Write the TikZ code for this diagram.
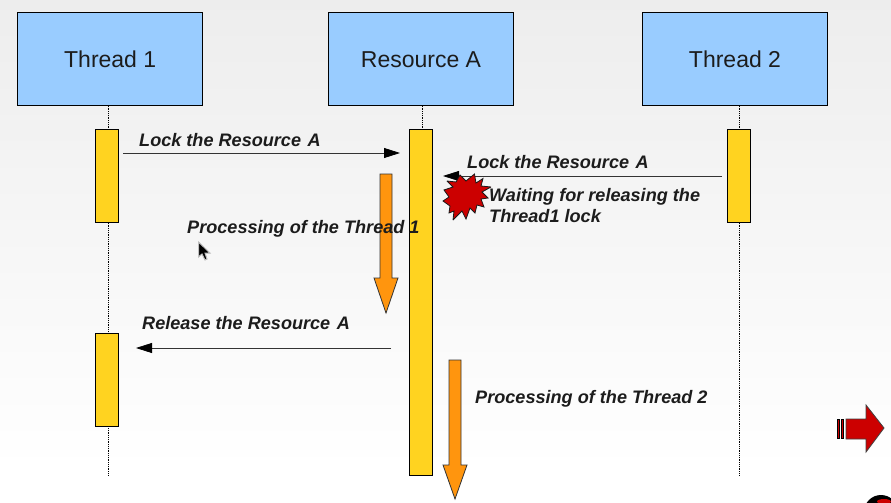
\documentclass[tikz,border=0pt]{standalone}
\usepackage{fontspec}
\setmainfont{Liberation Sans}
\usetikzlibrary{arrows.meta,calc}
\definecolor{boxblue}{HTML}{99CCFF}
\definecolor{baryellow}{HTML}{FFD320}
\definecolor{barorange}{HTML}{FF950E}
\definecolor{burst}{HTML}{CC0000}
\definecolor{inktext}{HTML}{1C1C1C}
\newcommand{\gapA}{\hspace{6.5pt}}
\tikzset{
  header/.style={draw=black,line width=1pt,fill=boxblue,minimum width=185.5pt,minimum height=92.5pt,inner sep=0pt,text height=17pt,text depth=0pt,font=\fontsize{23}{28}\selectfont,text=inktext},
  bar/.style={draw=black,line width=0.8pt,fill=baryellow,minimum width=22.3pt,inner sep=0pt},
  life/.style={densely dotted,line width=0.8pt,black},
  msg/.style={line width=0.8pt,draw=black!80,-{Triangle[length=16pt,width=10pt,color=black,fill=black]}},
  lbl/.style={anchor=base west,inner sep=0pt,font=\fontsize{18.1}{20.5}\selectfont\bfseries\itshape,text=inktext,align=left},
  blockarrow/.style={draw=black!80,line width=0.8pt,fill=barorange},
  redshape/.style={draw=black!75,line width=0.8pt,fill=burst}
}
\begin{document}
\begin{tikzpicture}[x=1pt,y=-1pt]
\useasboundingbox (0,0) rectangle (891,503);
\shade[top color=black!7,bottom color=white,middle color=black!3.5] (0,0) rectangle (891,470);
\fill[white] (0,470) rectangle (891,503);
% lifelines
\node[header] (t1) at (110.2,59) {Thread 1};
\node[header] (ra) at (421,59) {Resource A};
\node[header] (t2) at (735,59) {Thread 2};
\coordinate (e1) at (108,476);
\coordinate (e2) at (422,476);
\coordinate (e3) at (739.5,476);
\draw[life] (t1.south -| e1) -- (e1);
\draw[life] (ra.south -| e2) -- (e2);
\draw[life] (t2.south -| e3) -- (e3);
% activation bars
\node[bar,minimum height=93pt] (b1) at (106.9,175.5) {};
\node[bar,minimum height=93pt] (b2) at (106.9,380) {};
\node[bar,minimum height=346pt] (br) at (420.9,302) {};
\node[bar,minimum height=93pt] (b3) at (738.9,175.5) {};
% block arrows
\draw[blockarrow] (380,174) -- (392,174) -- (392,278) -- (398,278) -- (386,313) -- (374,278) -- (380,278) -- cycle;
\draw[blockarrow] (449,360) -- (461,360) -- (461,465) -- (467,465) -- (455,499) -- (443,465) -- (449,465) -- cycle;
% messages
\coordinate (m1a) at (123,153);
\coordinate (m1b) at (400,153);
\coordinate (m2a) at (722,176);
\coordinate (m2b) at (443,176);
\coordinate (m3a) at (391,348);
\coordinate (m3b) at (136,348);
\draw[msg] (m1a) -- (m1b);
\draw[msg] (m2a) -- (m2b);
\draw[msg] (m3a) -- (m3b);
% burst
\draw[redshape,draw=black!90,line join=miter,miter limit=3]
 (474.5,174) -- (476,183) -- (483,178.5) -- (481,186) -- (491,187) -- (482,192) -- (488,198)
 -- (481,199) -- (484,207) -- (477,205) -- (475,213) -- (470,208) -- (466,219) -- (462,211)
 -- (453,220) -- (454,211) -- (449,213) -- (450,206) -- (443,201) -- (449,197) -- (444,190)
 -- (453,187) -- (447,181) -- (456,182) -- (460,175) -- (466,181) -- cycle;
% labels
\node[lbl] (l1) at (139,146) {Lock the Resource\gapA A};
\node[lbl] (l2) at (467,168) {Lock the Resource\gapA A};
\node[lbl,anchor=north west] (l3) at (489,188.5) {Waiting for releasing the\\Thread1 lock};
\node[lbl] (l4) at (187,233) {Processing of the Thread 1};
\node[lbl] (l5) at (142,329) {Release the Resource\gapA A};
\node[lbl] (l6) at (475,403) {Processing of the Thread 2};
% next-slide arrow
\draw[redshape] (846,419) -- (866,419) -- (866,405) -- (884,428) -- (866,452) -- (866,439) -- (846,439) -- cycle;
\draw[fill=burst,draw=black,line width=1pt] (837.5,419.5) rectangle (839.7,438.5);
\draw[fill=burst,draw=black,line width=1pt] (841.5,419.5) rectangle (843.7,438.5);
% cursor
\draw[fill=black,draw=black!25,line width=1pt] (198.5,242) -- (198.5,257) -- (202,254) -- (205,260) -- (207,259) -- (205,253) -- (210,253) -- cycle;
% corner badge
\begin{scope}
\clip (860,490) rectangle (891,503);
\fill[black] (881,512) circle (17);
\fill[burst] (884,501.5) ellipse (7 and 2.5);
\end{scope}
\end{tikzpicture}
\end{document}
